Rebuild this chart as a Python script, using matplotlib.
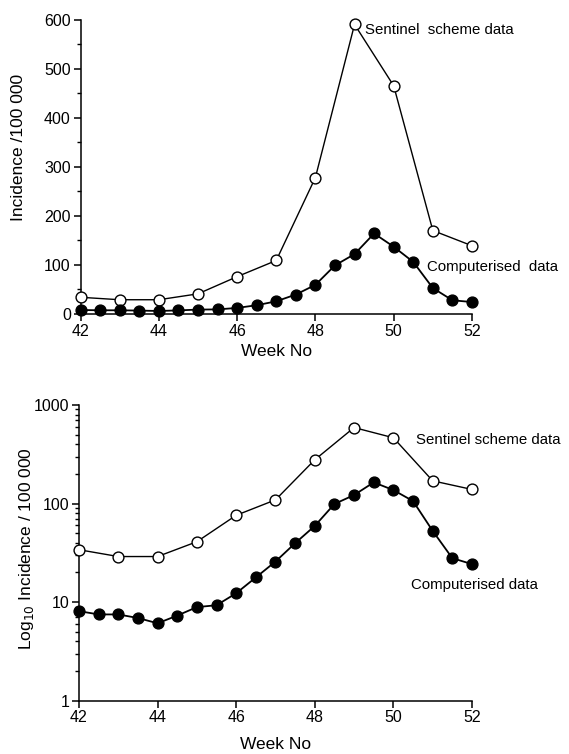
import matplotlib
matplotlib.use("Agg")
import matplotlib.pyplot as plt
from matplotlib.ticker import MultipleLocator, LogLocator, NullFormatter, FixedLocator

plt.rcParams['font.family'] = ['Liberation Sans', 'DejaVu Sans']

# data
sentinel_weeks = [42, 43, 44, 45, 46, 47, 48, 49, 50, 51, 52]
sentinel_vals = [34, 29, 29, 41, 76, 109, 278, 590, 465, 170, 139]

comp_weeks = [42, 42.5, 43, 43.5, 44, 44.5, 45, 45.5, 46, 46.5, 47,
              47.5, 48, 48.5, 49, 49.5, 50, 50.5, 51, 51.5, 52]
comp_vals = [8.1, 7.5, 7.5, 6.9, 6.1, 7.3, 8.9, 9.3, 12.3, 17.8, 25.8,
             39.6, 59.3, 99, 122, 164, 137, 106, 52.8, 27.9, 24.3]

x_ticks = [42, 44, 46, 48, 50, 52]
lin_ticks = [0, 100, 200, 300, 400, 500, 600]
log_ticks = [1, 10, 100, 1000]
log_ticklabels = ['1', '10', '100', '1000']

narrow = ['Liberation Sans Narrow', 'Liberation Sans']

fig = plt.figure(figsize=(5.69, 7.54), dpi=100)
ax1 = fig.add_axes([0.1415, 0.5836, 0.688, 0.3905])
ax2 = fig.add_axes([0.1388, 0.0707, 0.6907, 0.3922])

def style(ax, pad):
    for s in ['top', 'right']:
        ax.spines[s].set_visible(False)
    for s in ['left', 'bottom']:
        ax.spines[s].set_linewidth(1.1)
    ax.set_xlim(42, 52)
    ax.set_xticks(x_ticks)
    ax.tick_params(axis='both', which='major', length=5, width=1.1,
                   labelsize=11.5, pad=2)
    ax.tick_params(axis='y', which='minor', length=3, width=1.0)
    ax.set_xlabel('Week No', fontsize=12.5, labelpad=pad)

def draw(ax):
    ax.plot(sentinel_weeks, sentinel_vals, color='black', lw=1.0,
            marker='o', ms=7.8, mfc='white', mec='black', mew=1.0,
            clip_on=False, zorder=3)
    ax.plot(comp_weeks, comp_vals, color='black', lw=1.3,
            marker='o', ms=7.8, mfc='black', mec='black',
            clip_on=False, zorder=4)

# top: linear scale
draw(ax1)
style(ax1, 4)
ax1.set_ylim(0, 600)
ax1.set_yticks(lin_ticks)
ax1.yaxis.set_minor_locator(MultipleLocator(50))
ax1.set_ylabel('Incidence /100 000', fontsize=12.5)
ax1.yaxis.set_label_coords(-0.139, 0.564)
fig.text(365 / 569, 1 - 30 / 754, 'Sentinel  scheme data', fontsize=10.8,
         family=narrow, va='center')
fig.text(427 / 569, 1 - 267 / 754, 'Computerised  data', fontsize=10.8,
         family=narrow, va='center')

# bottom: log scale
draw(ax2)
style(ax2, 8)
ax2.set_yscale('log')
ax2.set_ylim(1, 1000)
ax2.yaxis.set_major_locator(FixedLocator(log_ticks))
ax2.set_yticklabels(log_ticklabels)
ax2.yaxis.set_minor_locator(LogLocator(base=10, subs=range(2, 10)))
ax2.yaxis.set_minor_formatter(NullFormatter())
ax2.set_ylabel('Log$_{10}$ Incidence / 100 000', fontsize=12.5)
ax2.yaxis.set_label_coords(-0.11, 0.513)
fig.text(416 / 569, 1 - 440 / 754, 'Sentinel scheme data', fontsize=10.8,
         family=narrow, va='center')
fig.text(411 / 569, 1 - 585 / 754, 'Computerised data', fontsize=10.8,
         family=narrow, va='center')

fig.savefig('out.png', dpi=100)
